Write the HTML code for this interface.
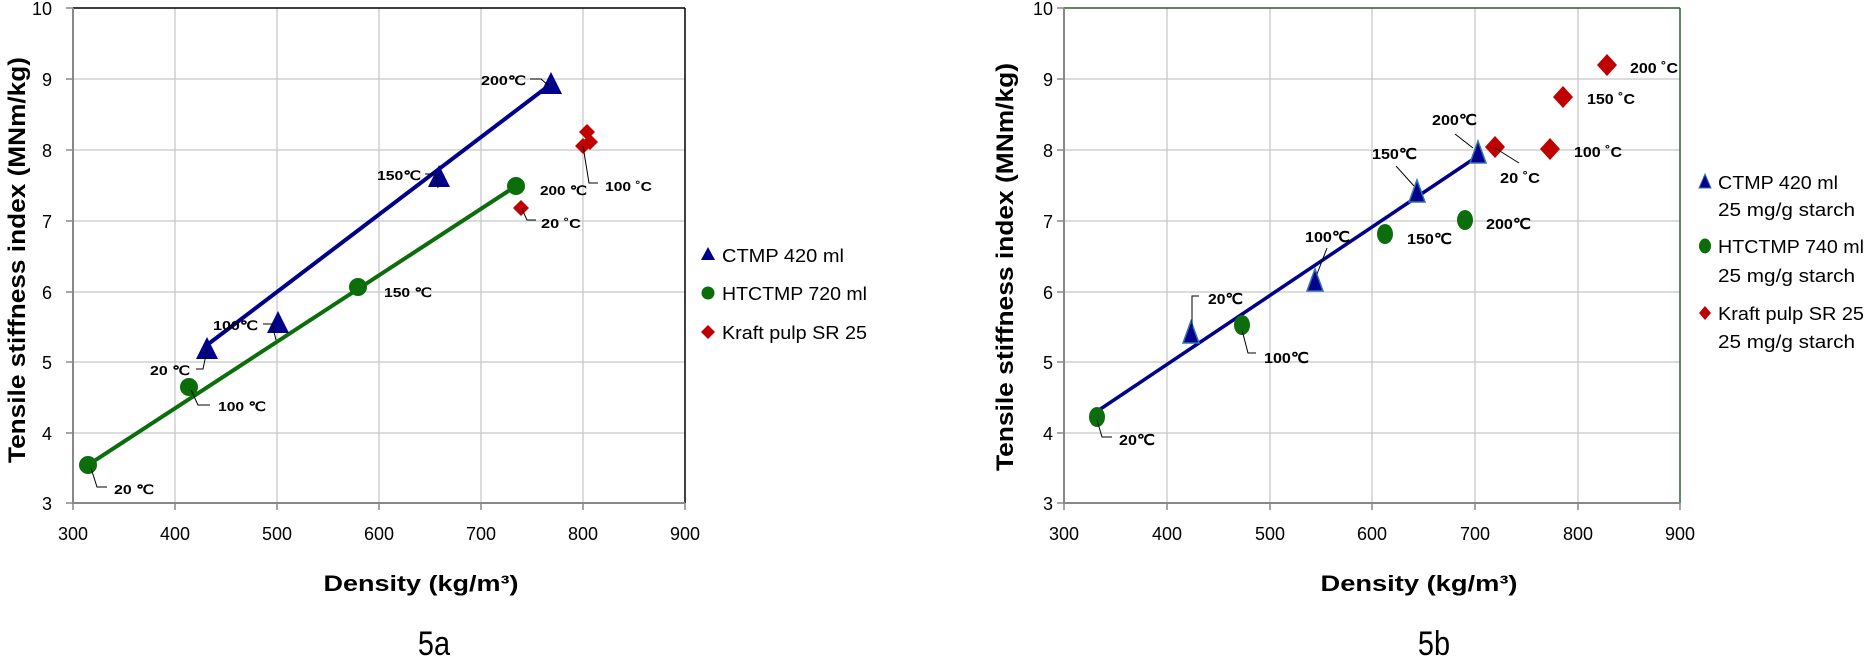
<!DOCTYPE html>
<html><head><meta charset="utf-8"><style>
html,body{margin:0;padding:0;background:#fff;}
svg{display:block;}
text{font-family:"Liberation Sans",sans-serif;fill:#000;}
.tk{font-size:18px;}
.lb{font-size:13px;font-weight:bold;}
.lb2{font-size:15px;font-weight:bold;}
.lg{font-size:18px;}
.g{stroke:#c8c8c8;stroke-width:1.3;}
.ld{stroke:#000;stroke-width:1;fill:none;}
</style></head><body>
<svg width="1864" height="657" viewBox="0 0 1864 657" xmlns="http://www.w3.org/2000/svg">
<g>
<line class="g" x1="175" y1="8" x2="175" y2="503"/><line class="g" x1="277" y1="8" x2="277" y2="503"/>
<line class="g" x1="379" y1="8" x2="379" y2="503"/><line class="g" x1="481" y1="8" x2="481" y2="503"/>
<line class="g" x1="583" y1="8" x2="583" y2="503"/>
<line class="g" x1="73" y1="79" x2="685" y2="79"/><line class="g" x1="73" y1="150" x2="685" y2="150"/>
<line class="g" x1="73" y1="221" x2="685" y2="221"/><line class="g" x1="73" y1="292" x2="685" y2="292"/>
<line class="g" x1="73" y1="362" x2="685" y2="362"/><line class="g" x1="73" y1="433" x2="685" y2="433"/>
<line x1="73" y1="8" x2="685" y2="8" stroke="#000" stroke-width="1.5"/>
<line x1="685" y1="8" x2="685" y2="503" stroke="#000" stroke-width="1.5"/>
<line x1="73" y1="8" x2="73" y2="503" stroke="#888" stroke-width="2"/>
<line x1="73" y1="503" x2="685" y2="503" stroke="#888" stroke-width="2"/>
<g stroke="#888" stroke-width="1.5">
<line x1="66" y1="8" x2="73" y2="8"/><line x1="66" y1="79" x2="73" y2="79"/><line x1="66" y1="150" x2="73" y2="150"/>
<line x1="66" y1="221" x2="73" y2="221"/><line x1="66" y1="292" x2="73" y2="292"/><line x1="66" y1="362" x2="73" y2="362"/>
<line x1="66" y1="433" x2="73" y2="433"/><line x1="66" y1="503" x2="73" y2="503"/>
<line x1="73" y1="503" x2="73" y2="510"/><line x1="175" y1="503" x2="175" y2="510"/><line x1="277" y1="503" x2="277" y2="510"/>
<line x1="379" y1="503" x2="379" y2="510"/><line x1="481" y1="503" x2="481" y2="510"/><line x1="583" y1="503" x2="583" y2="510"/>
<line x1="685" y1="503" x2="685" y2="510"/>
</g>
<g class="tk" text-anchor="end">
<text x="52" y="15">10</text><text x="52" y="86">9</text><text x="52" y="157">8</text><text x="52" y="228">7</text>
<text x="52" y="299">6</text><text x="52" y="369">5</text><text x="52" y="440">4</text><text x="52" y="510">3</text>
</g>
<g class="tk" text-anchor="middle">
<text x="73" y="540">300</text><text x="175" y="540">400</text><text x="277" y="540">500</text><text x="379" y="540">600</text>
<text x="481" y="540">700</text><text x="583" y="540">800</text><text x="685" y="540">900</text>
</g>
<text x="421" y="591" text-anchor="middle" font-size="22" font-weight="bold" textLength="195" lengthAdjust="spacingAndGlyphs">Density (kg/m³)</text>
<text transform="translate(25,260) rotate(-90)" text-anchor="middle" font-size="24" font-weight="bold" textLength="406" lengthAdjust="spacingAndGlyphs">Tensile stiffness index (MNm/kg)</text>
<text x="434" y="655" text-anchor="middle" font-size="34" transform="translate(434,0) scale(0.85,1) translate(-434,0)">5a</text>
<line x1="207" y1="345" x2="551" y2="84" stroke="#00008b" stroke-width="4"/>
<line x1="88" y1="465" x2="516" y2="186" stroke="#0b6e0b" stroke-width="4"/>
<g fill="#00008b">
<polygon points="551,72 562,94 540,94"/><polygon points="439,165 450,187 428,187"/>
<polygon points="278,311 289,333 267,333"/><polygon points="207,337 218,359 196,359"/>
</g>
<g fill="#0b6e0b">
<circle cx="516" cy="186" r="9"/><circle cx="358" cy="287" r="9"/><circle cx="189" cy="387" r="9"/><circle cx="88" cy="465" r="9"/>
</g>
<g fill="#c00000">
<polygon points="587,124 595,132 587,140 579,132"/><polygon points="590,134 598,142 590,150 582,142"/>
<polygon points="583,138 591,146 583,154 575,146"/><polygon points="521,200 529,208 521,216 513,208"/>
</g>
<g class="lb">
<text x="481" y="85" textLength="45" lengthAdjust="spacingAndGlyphs">200℃</text>
<text x="377" y="180" textLength="44" lengthAdjust="spacingAndGlyphs">150℃</text>
<text x="213" y="330" textLength="45" lengthAdjust="spacingAndGlyphs">100℃</text>
<text x="150" y="375" textLength="40" lengthAdjust="spacingAndGlyphs">20 ℃</text>
<text x="384" y="297" textLength="48" lengthAdjust="spacingAndGlyphs">150 ℃</text>
<text x="218" y="411" textLength="48" lengthAdjust="spacingAndGlyphs">100 ℃</text>
<text x="114" y="494" textLength="40" lengthAdjust="spacingAndGlyphs">20 ℃</text>
<text x="540" y="195" textLength="47" lengthAdjust="spacingAndGlyphs">200 ℃</text>
<text x="605" y="191" textLength="47" lengthAdjust="spacingAndGlyphs">100 ˚C</text>
<text x="541" y="228" textLength="40" lengthAdjust="spacingAndGlyphs">20 ˚C</text>
</g>
<g class="ld">
<polyline points="530,79 541,79 549,86"/>
<polyline points="425,174 435,174 438,188"/>
<polyline points="263,324 272,324 276,340"/>
<polyline points="196,369 203,369 207,350"/>
<polyline points="191,390 198,405 210,405"/>
<polyline points="91,468 97,487 107,487"/>
<polyline points="583,146 589,183 598,183"/>
<polyline points="522,209 527,220 536,220"/>
</g>
<polygon points="708,247 715,260 701,260" fill="#00008b"/>
<text class="lg" x="722" y="262" textLength="122" lengthAdjust="spacingAndGlyphs">CTMP 420 ml</text>
<circle cx="708" cy="293" r="6.5" fill="#0b6e0b"/>
<text class="lg" x="722" y="300" textLength="145" lengthAdjust="spacingAndGlyphs">HTCTMP 720 ml</text>
<polygon points="708,325 715,332 708,339 701,332" fill="#c00000"/>
<text class="lg" x="722" y="339" textLength="145" lengthAdjust="spacingAndGlyphs">Kraft pulp SR 25</text>
</g>

<g>
<line class="g" x1="1167" y1="8" x2="1167" y2="503"/><line class="g" x1="1270" y1="8" x2="1270" y2="503"/>
<line class="g" x1="1372" y1="8" x2="1372" y2="503"/><line class="g" x1="1475" y1="8" x2="1475" y2="503"/>
<line class="g" x1="1578" y1="8" x2="1578" y2="503"/>
<line class="g" x1="1064" y1="79" x2="1680" y2="79"/><line class="g" x1="1064" y1="150" x2="1680" y2="150"/>
<line class="g" x1="1064" y1="221" x2="1680" y2="221"/><line class="g" x1="1064" y1="292" x2="1680" y2="292"/>
<line class="g" x1="1064" y1="362" x2="1680" y2="362"/><line class="g" x1="1064" y1="433" x2="1680" y2="433"/>
<line x1="1064" y1="8" x2="1680" y2="8" stroke="#2f5f2f" stroke-width="1.5"/>
<line x1="1680" y1="8" x2="1680" y2="503" stroke="#2f5f2f" stroke-width="1.5"/>
<line x1="1064" y1="8" x2="1064" y2="503" stroke="#888" stroke-width="2"/>
<line x1="1064" y1="503" x2="1680" y2="503" stroke="#888" stroke-width="2"/>
<g stroke="#888" stroke-width="1.5">
<line x1="1057" y1="8" x2="1064" y2="8"/><line x1="1057" y1="79" x2="1064" y2="79"/><line x1="1057" y1="150" x2="1064" y2="150"/>
<line x1="1057" y1="221" x2="1064" y2="221"/><line x1="1057" y1="292" x2="1064" y2="292"/><line x1="1057" y1="362" x2="1064" y2="362"/>
<line x1="1057" y1="433" x2="1064" y2="433"/><line x1="1057" y1="503" x2="1064" y2="503"/>
<line x1="1064" y1="503" x2="1064" y2="510"/><line x1="1167" y1="503" x2="1167" y2="510"/><line x1="1270" y1="503" x2="1270" y2="510"/>
<line x1="1372" y1="503" x2="1372" y2="510"/><line x1="1475" y1="503" x2="1475" y2="510"/><line x1="1578" y1="503" x2="1578" y2="510"/>
<line x1="1680" y1="503" x2="1680" y2="510"/>
</g>
<g class="tk" text-anchor="end">
<text x="1053" y="15">10</text><text x="1053" y="86">9</text><text x="1053" y="157">8</text><text x="1053" y="228">7</text>
<text x="1053" y="299">6</text><text x="1053" y="369">5</text><text x="1053" y="440">4</text><text x="1053" y="510">3</text>
</g>
<g class="tk" text-anchor="middle">
<text x="1064" y="540">300</text><text x="1167" y="540">400</text><text x="1270" y="540">500</text><text x="1372" y="540">600</text>
<text x="1475" y="540">700</text><text x="1578" y="540">800</text><text x="1680" y="540">900</text>
</g>
<text x="1419" y="591" text-anchor="middle" font-size="22" font-weight="bold" textLength="197" lengthAdjust="spacingAndGlyphs">Density (kg/m³)</text>
<text transform="translate(1013,267) rotate(-90)" text-anchor="middle" font-size="24" font-weight="bold" textLength="408" lengthAdjust="spacingAndGlyphs">Tensile stiffness index (MNm/kg)</text>
<text x="1434" y="655" text-anchor="middle" font-size="34" transform="translate(1434,0) scale(0.85,1) translate(-1434,0)">5b</text>
<line x1="1096" y1="412" x2="1475" y2="158" stroke="#00008b" stroke-width="3.5"/>
<g fill="#0b6e0b">
<ellipse cx="1465" cy="220" rx="8" ry="10"/><ellipse cx="1385" cy="234" rx="8" ry="10"/>
<ellipse cx="1242" cy="325" rx="8" ry="10"/><ellipse cx="1097" cy="417" rx="8" ry="10"/>
</g>
<g fill="#00008b" stroke="#2e75b6" stroke-width="1.5">
<polygon points="1478,141 1486,163 1470,163"/><polygon points="1417,180 1425,202 1409,202"/>
<polygon points="1315,269 1323,291 1307,291"/><polygon points="1191,321 1199,343 1183,343"/>
</g>
<g fill="#c00000">
<polygon points="1607,54 1617,65 1607,76 1597,65"/><polygon points="1563,86 1573,97 1563,108 1553,97"/>
<polygon points="1550,138 1560,149 1550,160 1540,149"/><polygon points="1495,136 1505,147 1495,158 1485,147"/>
</g>
<g class="lb2">
<text x="1630" y="73" textLength="48" lengthAdjust="spacingAndGlyphs">200 ˚C</text>
<text x="1587" y="104" textLength="48" lengthAdjust="spacingAndGlyphs">150 ˚C</text>
<text x="1574" y="157" textLength="48" lengthAdjust="spacingAndGlyphs">100 ˚C</text>
<text x="1500" y="183" textLength="40" lengthAdjust="spacingAndGlyphs">20 ˚C</text>
<text x="1486" y="229" textLength="45" lengthAdjust="spacingAndGlyphs">200℃</text>
<text x="1407" y="244" textLength="45" lengthAdjust="spacingAndGlyphs">150℃</text>
<text x="1264" y="363" textLength="45" lengthAdjust="spacingAndGlyphs">100℃</text>
<text x="1119" y="445" textLength="36" lengthAdjust="spacingAndGlyphs">20℃</text>
<text x="1432" y="125" textLength="45" lengthAdjust="spacingAndGlyphs">200℃</text>
<text x="1372" y="159" textLength="45" lengthAdjust="spacingAndGlyphs">150℃</text>
<text x="1305" y="242" textLength="45" lengthAdjust="spacingAndGlyphs">100℃</text>
<text x="1208" y="304" textLength="35" lengthAdjust="spacingAndGlyphs">20℃</text>
</g>
<g class="ld">
<polyline points="1495,148 1519,163"/>
<polyline points="1455,134 1473,148"/>
<polyline points="1396,166 1414,186"/>
<polyline points="1327,248 1317,274"/>
<polyline points="1199,296 1192,296 1192,327"/>
<polyline points="1242,330 1248,353 1256,353"/>
<polyline points="1097,420 1102,437 1112,437"/>
</g>
<polygon points="1705,174 1711,188 1699,188" fill="#00008b" stroke="#2e75b6" stroke-width="1"/>
<text class="lg" x="1718" y="189" font-size="20" textLength="120" lengthAdjust="spacingAndGlyphs">CTMP 420 ml</text>
<text class="lg" x="1718" y="216" font-size="20" textLength="137" lengthAdjust="spacingAndGlyphs">25 mg/g starch</text>
<ellipse cx="1705" cy="246" rx="6" ry="7.5" fill="#0b6e0b"/>
<text class="lg" x="1718" y="253" font-size="20" textLength="146" lengthAdjust="spacingAndGlyphs">HTCTMP 740 ml</text>
<text class="lg" x="1718" y="282" font-size="20" textLength="137" lengthAdjust="spacingAndGlyphs">25 mg/g starch</text>
<polygon points="1705,306 1711,313 1705,320 1699,313" fill="#c00000"/>
<text class="lg" x="1718" y="320" font-size="20" textLength="146" lengthAdjust="spacingAndGlyphs">Kraft pulp SR 25</text>
<text class="lg" x="1718" y="348" font-size="20" textLength="137" lengthAdjust="spacingAndGlyphs">25 mg/g starch</text>
</g>
</svg>
</body></html>
